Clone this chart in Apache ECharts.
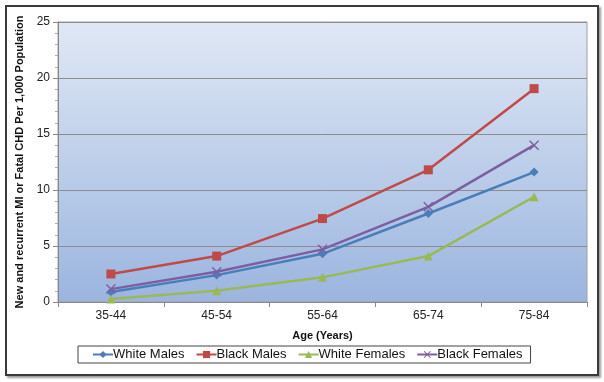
<!DOCTYPE html>
<html><head><meta charset="utf-8">
<script src="https://cdn.jsdelivr.net/npm/echarts@6/dist/echarts.min.js"></script>
<style>
html,body{margin:0;padding:0;background:#fff;}
#frame{position:absolute;left:5px;top:5px;width:590px;height:367px;border:2px solid #3a3a3a;box-shadow:2px 2px 2px #999;}
#chart{position:absolute;left:0;top:0;width:604px;height:382px;}
</style></head>
<body>
<div id="frame"></div>
<div id="chart"></div>
<script>
const categories = ['35-44','45-54','55-64','65-74','75-84'];
const whiteMales = [0.9, 2.4, 4.3, 7.9, 11.6];
const blackMales = [2.5, 4.1, 7.45, 11.8, 19.05];
const whiteFemales = [0.27, 1.0, 2.2, 4.1, 9.4];
const blackFemales = [1.15, 2.7, 4.7, 8.5, 14.0];
const yTicks = [0, 5, 10, 15, 20, 25];

const crossPath = 'path://M0,1 L1,0 L5,4 L9,0 L10,1 L6,5 L10,9 L9,10 L5,6 L1,10 L0,9 L4,5 Z';

const chart = echarts.init(document.getElementById('chart'));
function ser(name, data, color, symbol, size){
  return {name, type:'line', data, symbol, symbolSize:size, showAllSymbol:true,
    lineStyle:{color, width:2.5}, itemStyle:{color}, color};
}
chart.setOption({
  animation:false,
  textStyle:{fontFamily:'Liberation Sans, Arial, sans-serif'},
  grid:{left:58, right:17, top:22, bottom:80, show:true, borderColor:'#a0a0a0', borderWidth:1,
    backgroundColor:{type:'linear', x:0, y:0, x2:0, y2:1,
      colorStops:[{offset:0,color:'#e0e8f5'},{offset:1,color:'#9bb5df'}]}},
  xAxis:{type:'category', data:categories, boundaryGap:true,
    name:'Age (Years)', nameLocation:'middle', nameGap:28,
    nameTextStyle:{fontWeight:'bold', fontSize:11, color:'#111'},
    axisLine:{lineStyle:{color:'#888'}},
    axisTick:{show:true, alignWithLabel:false, length:5, lineStyle:{color:'#888'}},
    axisLabel:{fontSize:12, color:'#222', margin:8}},
  yAxis:{type:'value', min:0, max:25, interval:5,
    name:'New and recurrent MI or Fatal CHD Per 1,000 Population', nameLocation:'middle', nameGap:30,
    nameTextStyle:{fontWeight:'bold', fontSize:11, color:'#111'},
    axisLine:{show:true, lineStyle:{color:'#888'}},
    axisTick:{show:true, length:5, lineStyle:{color:'#888'}},
    minorTick:{show:true, splitNumber:5, length:3, lineStyle:{color:'#aaa'}},
    splitLine:{show:true, lineStyle:{color:'#8c8c8c', width:1}},
    axisLabel:{fontSize:12, color:'#222', margin:8,
      formatter:v=> yTicks.includes(v) ? String(v) : ''}},
  legend:{top:346, left:78, itemGap:11, itemWidth:20, itemHeight:9,
    padding:[2,8,2,14],
    borderColor:'#444', borderWidth:1, backgroundColor:'#fff',
    textStyle:{fontSize:13, color:'#111', padding:[0,0,0,-5]},
    data:['White Males','Black Males','White Females','Black Females']},
  series:[
    ser('White Males', whiteMales, '#4a7ebb', 'diamond', 9),
    ser('Black Males', blackMales, '#be4b48', 'rect', 9),
    ser('White Females', whiteFemales, '#98b954', 'triangle', 9),
    ser('Black Females', blackFemales, '#7d5fa0', crossPath, 10)
  ]
});
</script>
</body></html>
